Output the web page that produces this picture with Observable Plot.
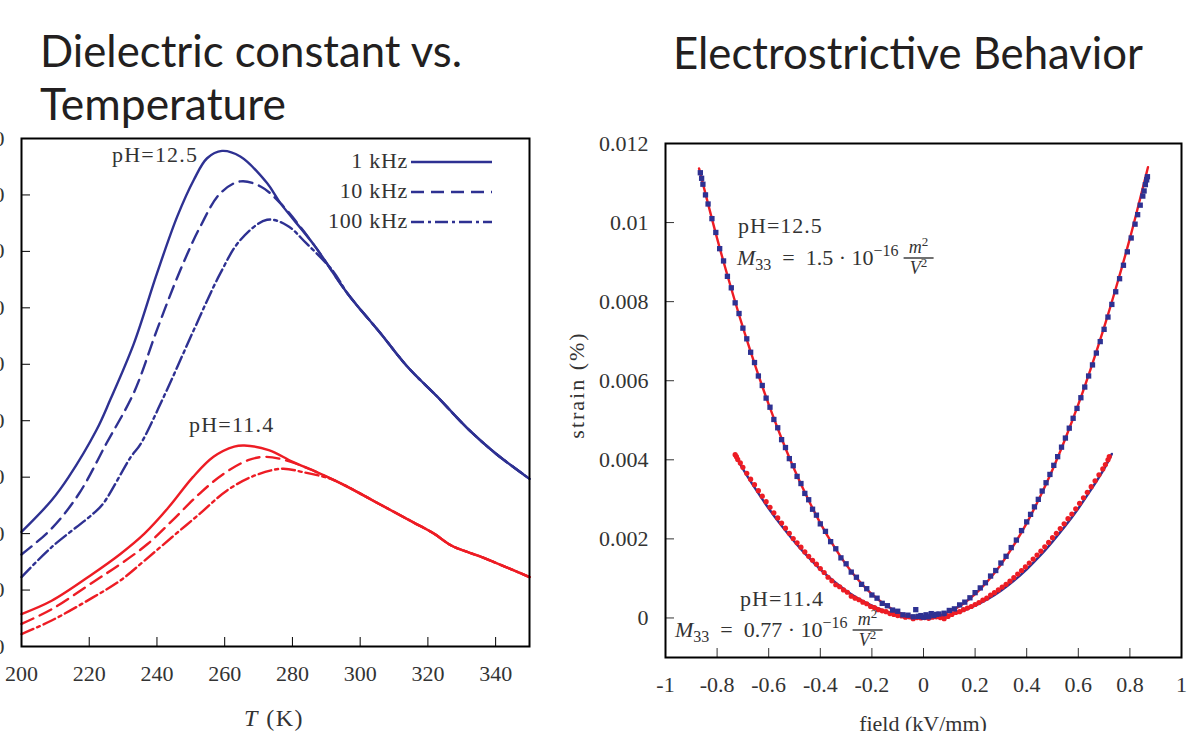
<!DOCTYPE html>
<html>
<head>
<meta charset="utf-8">
<script src="https://cdn.jsdelivr.net/npm/d3@7"></script>
<script src="https://cdn.jsdelivr.net/npm/@observablehq/plot@0.6"></script>
<style>
html, body { margin: 0; padding: 0; background: #fff; }
#page { position: relative; width: 1195px; height: 731px; overflow: hidden; background: #fff; }
#left { position: absolute; left: -60px; top: 128px; width: 599px; }
#right { position: absolute; left: 560px; top: 133px; width: 635px; }
#overlay { position: absolute; left: 0; top: 0; pointer-events: none; }
</style>
</head>
<body>
<div id="page">
  <div id="left"></div>
  <div id="right"></div>
  <svg id="overlay" width="1195" height="731"></svg>
</div>
<script>
// ---------------- Left chart: dielectric constant vs temperature ----------------
const tempTicks = [200, 220, 240, 260, 280, 300, 320, 340];
const epsTicks = [0, 1000, 2000, 3000, 4000, 5000, 6000, 7000, 8000, 9000];

// pH = 12.5
const T_ph125_1k = [200, 208.9, 213.9, 222.1, 226.2, 233.2, 240.0, 246.0, 250.9, 254.8, 259.2, 264.6, 272.5, 276.5, 286.3, 296.2, 306.0, 313.9, 322.7, 331.6, 340, 350];
const eps_ph125_1k = [2030, 2590, 3000, 3830, 4370, 5370, 6610, 7620, 8270, 8650, 8780, 8680, 8210, 7850, 7120, 6260, 5550, 4960, 4430, 3870, 3420, 2970];
const T_ph125_10k = [200, 208.9, 217.0, 225.1, 233.2, 240.0, 246.9, 252.8, 258.7, 264.6, 270.6, 276.5, 286.3, 296.2, 306.0, 313.9, 322.7, 331.6, 340, 350];
const eps_ph125_10k = [1630, 2090, 2710, 3600, 4500, 5610, 6670, 7440, 8030, 8240, 8150, 7850, 7120, 6260, 5550, 4960, 4430, 3870, 3420, 2970];
const T_ph125_100k = [200, 208.9, 221.1, 224.1, 232.3, 235.1, 242.2, 250.9, 258.7, 264.6, 272.5, 278.4, 284, 292, 296.2, 306.0, 313.9, 322.7, 331.6, 340, 350];
const eps_ph125_100k = [1230, 1760, 2350, 2530, 3360, 3580, 4450, 5610, 6610, 7200, 7560, 7460, 7150, 6650, 6260, 5550, 4960, 4430, 3870, 3420, 2970];

// pH = 11.4
const T_ph114_1k = [200, 208.9, 221.1, 229.2, 236.3, 243.5, 250.6, 256.7, 262.8, 265.8, 273.0, 280.1, 287.2, 295.3, 305.5, 315.7, 321.8, 326.9, 336.1, 350];
const eps_ph114_1k = [575, 810, 1290, 1640, 2000, 2470, 3000, 3360, 3540, 3560, 3480, 3270, 3090, 2860, 2530, 2200, 2000, 1790, 1580, 1230];
const T_ph114_10k = [200, 208.9, 221.1, 229.2, 237.3, 244.5, 252.6, 259.7, 266.9, 271.9, 278.0, 285.2, 295.3, 305.5, 315.7, 321.8, 326.9, 336.1, 350];
const eps_ph114_10k = [400, 660, 1140, 1460, 1820, 2230, 2710, 3060, 3300, 3360, 3300, 3140, 2860, 2530, 2200, 2000, 1790, 1580, 1230];
const T_ph114_100k = [200, 208.9, 221.1, 229.2, 236.3, 244.5, 252.6, 260.8, 268.9, 277.0, 283.1, 291.3, 295.3, 305.5, 315.7, 321.8, 326.9, 336.1, 350];
const eps_ph114_100k = [220, 460, 870, 1170, 1520, 1940, 2350, 2770, 3030, 3150, 3090, 2970, 2860, 2530, 2200, 2000, 1790, 1580, 1230];

const freqLabels = ["1 kHz", "10 kHz", "100 kHz"];
const pHLabels = ["pH=12.5", "pH=11.4"];

// ---------------- Right chart: strain vs field ----------------
const fieldTicks = [-1, -0.8, -0.6, -0.4, -0.2, 0, 0.2, 0.4, 0.6, 0.8, 1];
const strainTicks = [0, 0.002, 0.004, 0.006, 0.008, 0.01, 0.012];

// pH = 12.5 measured points
const E_ph125 = [-0.865,-0.86,-0.855,-0.845,-0.835,-0.82,-0.805,-0.79,-0.775,-0.76,-0.745,-0.73,-0.715,-0.70,-0.685,-0.67,-0.655,-0.64,-0.625,-0.61,-0.595,-0.58,-0.565,-0.55,-0.535,-0.52,-0.505,-0.49,-0.475,-0.46,-0.445,-0.43,-0.415,-0.40,-0.38,-0.36,-0.34,-0.32,-0.30,-0.28,-0.26,-0.24,-0.22,-0.20,-0.18,-0.16,-0.14,-0.12,-0.10,-0.08,-0.06,-0.04,-0.03,-0.02,
  -0.01,0,0.01,0.02,0.03,0.04,0.05,0.06,0.08,0.10,0.12,0.14,0.16,0.18,0.20,0.22,0.24,0.26,0.28,0.30,0.32,0.34,0.36,0.38,0.40,0.415,0.43,0.445,0.46,0.475,0.49,0.505,0.52,0.535,0.55,0.565,0.58,0.595,0.61,0.625,0.64,0.655,0.67,0.685,0.70,0.715,0.73,0.745,0.76,0.775,0.79,0.805,0.82,0.83,0.84,0.85,0.855,0.86,0.865,0.868];
const S_ph125 = [0.01126,0.01112,0.01097,0.01070,0.01047,0.01010,0.00975,0.00934,0.00903,0.00864,0.00835,0.00797,0.00770,0.00733,0.00706,0.00672,0.00646,0.00612,0.00588,0.00556,0.00533,0.00502,0.00481,0.00451,0.00431,0.00403,0.00385,0.00358,0.00340,0.00315,0.00299,0.00275,0.00260,0.00238,0.00219,0.00193,0.00175,0.00152,0.00137,0.00116,0.00103,0.00085,0.00074,0.00058,0.00050,0.00037,0.00031,0.00020,0.00017,0.00008,0.00007,0.00003,0.00021,0.00004,
  0.00006,0.00002,0.00008,0.00003,0.00011,0.00006,0.00009,0.00010,0.00012,0.00019,0.00023,0.00033,0.00040,0.00051,0.00064,0.00076,0.00089,0.00106,0.00120,0.00139,0.00156,0.00178,0.00197,0.00221,0.00243,0.00262,0.00281,0.00300,0.00321,0.00342,0.00363,0.00386,0.00408,0.00432,0.00455,0.00480,0.00505,0.00530,0.00557,0.00584,0.00612,0.00640,0.00670,0.00699,0.00730,0.00761,0.00793,0.00825,0.00858,0.00892,0.00926,0.00961,0.00996,0.01020,0.01044,0.01067,0.01080,0.01096,0.01108,0.01116];

// pH = 11.4 measured points
const E_ph114 = [-0.73,-0.725,-0.72,-0.71,-0.70,-0.685,-0.67,-0.655,-0.64,-0.625,-0.61,-0.595,-0.58,-0.565,-0.55,-0.535,-0.52,-0.505,-0.49,-0.475,-0.46,-0.445,-0.43,-0.415,-0.40,-0.385,-0.37,-0.355,-0.34,-0.325,-0.31,-0.295,-0.28,-0.265,-0.25,-0.235,-0.22,-0.205,-0.19,-0.175,-0.16,-0.145,-0.13,-0.115,-0.10,-0.085,-0.07,-0.055,-0.04,-0.025,-0.01,
  0.005,0.02,0.035,0.05,0.065,0.08,0.095,0.11,0.125,0.14,0.155,0.17,0.185,0.20,0.215,0.23,0.245,0.26,0.275,0.29,0.305,0.32,0.335,0.35,0.365,0.38,0.395,0.41,0.425,0.44,0.455,0.47,0.485,0.50,0.515,0.53,0.545,0.56,0.575,0.59,0.605,0.62,0.635,0.65,0.665,0.68,0.695,0.705,0.715,0.72];
const S_ph114 = [0.00413,0.00408,0.00401,0.00392,0.00381,0.00366,0.00351,0.00337,0.00322,0.00308,0.00294,0.00280,0.00266,0.00253,0.00240,0.00227,0.00214,0.00201,0.00190,0.00179,0.00167,0.00156,0.00146,0.00136,0.00125,0.00115,0.00103,0.00094,0.00084,0.00079,0.00071,0.00065,0.00055,0.00050,0.00046,0.00040,0.00036,0.00029,0.00026,0.00021,0.00018,0.00016,0.00011,0.00009,0.00006,0.00005,0.00002,0.00003,-0.00002,0.00001,0.00000,
  0.00001,-0.00001,0.00002,0.00003,0.00001,-0.00002,0.00004,0.00009,0.00014,0.00016,0.00021,0.00025,0.00029,0.00034,0.00039,0.00045,0.00050,0.00058,0.00064,0.00071,0.00078,0.00085,0.00093,0.00102,0.00111,0.00120,0.00129,0.00139,0.00149,0.00159,0.00169,0.00180,0.00191,0.00203,0.00214,0.00226,0.00238,0.00251,0.00263,0.00276,0.00290,0.00304,0.00318,0.00332,0.00347,0.00362,0.00377,0.00388,0.00400,0.00408];

// Quadratic fits
const Efit_ph125 = [-0.87,-0.8,-0.75,-0.7,-0.65,-0.6,-0.55,-0.5,-0.45,-0.4,-0.35,-0.3,-0.25,-0.2,-0.15,-0.1,-0.05,0,0.05,0.1,0.15,0.2,0.25,0.3,0.35,0.4,0.45,0.5,0.55,0.6,0.65,0.7,0.75,0.8,0.87];
const Sfit_ph125 = [0.01137,0.0096,0.00844,0.00735,0.00634,0.0054,0.00454,0.00375,0.00304,0.0024,0.00184,0.00135,0.00094,0.0006,0.00034,0.00015,0.00004,0,0.00004,0.00015,0.00034,0.0006,0.00094,0.00135,0.00184,0.0024,0.00304,0.00375,0.00454,0.0054,0.00634,0.00735,0.00844,0.0096,0.01140];
const Efit_ph114 = [-0.73,-0.7,-0.65,-0.6,-0.55,-0.5,-0.45,-0.4,-0.35,-0.3,-0.25,-0.2,-0.15,-0.1,-0.05,0,0.05,0.1,0.15,0.2,0.25,0.3,0.35,0.4,0.45,0.5,0.55,0.6,0.65,0.7,0.73];
const Sfit_ph114 = [0.00412,0.00377,0.00325,0.00277,0.00233,0.00193,0.00156,0.00123,0.00094,0.00069,0.00048,0.00031,0.00017,0.00008,0.00002,0,0.00002,0.00008,0.00017,0.00031,0.00048,0.00069,0.00094,0.00123,0.00156,0.00193,0.00233,0.00277,0.00325,0.00377,0.00415];

// ---------------- styles ----------------
const BLUE = "#2e3192";
const RED = "#ed1c24";
const SERIF = "'Liberation Serif', 'DejaVu Serif', serif";
const TEXT = "#333";
const DASH = { "1 kHz": null, "10 kHz": "13,7", "100 kHz": "13,4,3,4" };

const zip = (xs, ys, extra) => xs.map((x, i) => ({ x, y: ys[i], ...extra }));

const dielectric = [
  ...zip(T_ph125_1k, eps_ph125_1k, { pH: pHLabels[0], f: freqLabels[0] }),
  ...zip(T_ph125_10k, eps_ph125_10k, { pH: pHLabels[0], f: freqLabels[1] }),
  ...zip(T_ph125_100k, eps_ph125_100k, { pH: pHLabels[0], f: freqLabels[2] }),
  ...zip(T_ph114_1k, eps_ph114_1k, { pH: pHLabels[1], f: freqLabels[0] }),
  ...zip(T_ph114_10k, eps_ph114_10k, { pH: pHLabels[1], f: freqLabels[1] }),
  ...zip(T_ph114_100k, eps_ph114_100k, { pH: pHLabels[1], f: freqLabels[2] })
];

const leftMarks = [];
for (const pH of pHLabels) {
  for (const f of freqLabels) {
    leftMarks.push(Plot.line(dielectric.filter(d => d.pH === pH && d.f === f), {
      x: "x", y: "y", curve: "catmull-rom",
      stroke: pH === pHLabels[0] ? BLUE : RED,
      strokeWidth: 2.4,
      strokeDasharray: DASH[f]
    }));
  }
}

const leftPlot = Plot.plot({
  width: 599, height: 603,
  marginLeft: 81, marginRight: 10, marginTop: 10, marginBottom: 85,
  x: { domain: [200, 350] },
  y: { domain: [0, 9000] },
  style: { fontFamily: SERIF, fontSize: "22px", color: TEXT, background: "transparent", maxWidth: "none", overflow: "visible" },
  marks: [
    ...leftMarks,
    Plot.axisX({ ticks: tempTicks, tickSize: -9, tickPadding: 28, tickFormat: d => String(d), label: null, stroke: "#000" }),
    Plot.axisY({ ticks: epsTicks, tickSize: -9, tickPadding: 26, tickFormat: d => String(d), label: null, stroke: "#000" }),
    Plot.frame({ stroke: "#000", strokeWidth: 2 })
  ]
});
document.getElementById("left").appendChild(leftPlot);

const rightPlot = Plot.plot({
  width: 635, height: 614,
  marginLeft: 105, marginRight: 14, marginTop: 10, marginBottom: 90,
  x: { domain: [-1, 1] },
  y: { domain: [-0.001, 0.012] },
  style: { fontFamily: SERIF, fontSize: "22px", color: TEXT, background: "transparent", maxWidth: "none", overflow: "visible" },
  marks: [
    Plot.line(zip(Efit_ph114, Sfit_ph114), { x: "x", y: "y", stroke: BLUE, strokeWidth: 2.4, curve: "catmull-rom" }),
    Plot.line(zip(Efit_ph125, Sfit_ph125), { x: "x", y: "y", stroke: RED, strokeWidth: 2.4, curve: "catmull-rom" }),
    Plot.dot(zip(E_ph114, S_ph114), { x: "x", y: "y", r: 2.6, fill: RED, stroke: "none" }),
    Plot.dot(zip(E_ph125, S_ph125), { x: "x", y: "y", r: 3.0, symbol: "square", fill: BLUE, stroke: "none" }),
    Plot.axisX({ ticks: fieldTicks, tickSize: -9, tickPadding: 28, tickFormat: d => String(Math.round(d * 10) / 10), label: null }),
    Plot.axisY({ ticks: strainTicks, tickSize: -9, tickPadding: 26, tickFormat: d => d === 0 ? "0" : String(+d.toFixed(3)), label: null }),
    Plot.frame({ stroke: "#000", strokeWidth: 2 })
  ]
});
document.getElementById("right").appendChild(rightPlot);

// ---------------- Overlay texts: titles, labels, legend, annotations ----------------
const ov = d3.select("#overlay");
const SANS = "Lato, 'Open Sans', sans-serif";

function title(x, y, s, len) {
  ov.append("text").attr("x", x).attr("y", y)
    .attr("font-family", SANS).attr("font-size", 44).attr("fill", "#231f20")
    .attr("textLength", len).attr("lengthAdjust", "spacingAndGlyphs").text(s);
}
title(40, 67, "Dielectric constant vs.", 422);
title(40, 120, "Temperature", 246);
title(673, 69, "Electrostrictive Behavior", 470);

function serifText(x, y, s, anchor = "start", spacing = 0) {
  return ov.append("text").attr("x", x).attr("y", y).attr("text-anchor", anchor)
    .attr("font-family", SERIF).attr("font-size", 22).attr("fill", TEXT)
    .attr("letter-spacing", spacing).style("white-space", "pre").text(s);
}

// left annotations
serifText(112, 162, pHLabels[0], "start", 1.2);
serifText(189, 432, pHLabels[1], "start", 1.2);

// legend
const legendY = [162, 192, 222];
freqLabels.forEach((f, i) => {
  serifText(408, legendY[i] + 6, f, "end", 0.7);
  ov.append("line").attr("x1", 411).attr("x2", 492).attr("y1", legendY[i]).attr("y2", legendY[i])
    .attr("stroke", BLUE).attr("stroke-width", 2.4).attr("stroke-dasharray", DASH[f]);
});

// left axis label
const tl = ov.append("text").attr("x", 274).attr("y", 726).attr("text-anchor", "middle")
  .attr("font-family", SERIF).attr("font-size", 24).attr("fill", TEXT)
  .attr("letter-spacing", 1.5).style("white-space", "pre");
tl.append("tspan").attr("font-style", "italic").text("T");
tl.append("tspan").text(" (K)");

// right axis labels
serifText(923, 731, "field (kV/mm)", "middle");
ov.append("text").attr("transform", "translate(584,385) rotate(-90)").attr("text-anchor", "middle")
  .attr("font-family", SERIF).attr("font-size", 22).attr("fill", TEXT).attr("letter-spacing", 2).text("strain (%)");

// right annotations
serifText(738, 233, pHLabels[0], "start", 1);
serifText(740, 606, pHLabels[1], "start", 1);

function formula(x, y, coef) {
  const t = ov.append("text").attr("x", x).attr("y", y)
    .attr("font-family", SERIF).attr("font-size", 22).attr("fill", TEXT).style("white-space", "pre");
  t.append("tspan").attr("font-style", "italic").text("M");
  t.append("tspan").attr("font-size", 16).attr("dy", 5).text("33");
  t.append("tspan").attr("dy", -5).text("  =  " + coef + " · 10");
  t.append("tspan").attr("font-size", 16).attr("dy", -9).text("−16");
  const bb = t.node().getBBox();
  const fx = bb.x + bb.width + 5;
  const w = 30;
  const num = ov.append("text").attr("x", fx + w / 2).attr("y", y - 12).attr("text-anchor", "middle")
    .attr("font-family", SERIF).attr("font-size", 18).attr("fill", TEXT).style("white-space", "pre");
  num.append("tspan").attr("font-style", "italic").text("m");
  num.append("tspan").attr("font-size", 13).attr("dy", -7).text("2");
  ov.append("line").attr("x1", fx).attr("x2", fx + w).attr("y1", y - 7).attr("y2", y - 7)
    .attr("stroke", "#222").attr("stroke-width", 1.3);
  const den = ov.append("text").attr("x", fx + w / 2).attr("y", y + 9).attr("text-anchor", "middle")
    .attr("font-family", SERIF).attr("font-size", 18).attr("fill", TEXT).style("white-space", "pre");
  den.append("tspan").attr("font-style", "italic").text("V");
  den.append("tspan").attr("font-size", 13).attr("dy", -7).text("2");
}
formula(737, 265, "1.5");
formula(675, 637, "0.77");
</script>
</body>
</html>
